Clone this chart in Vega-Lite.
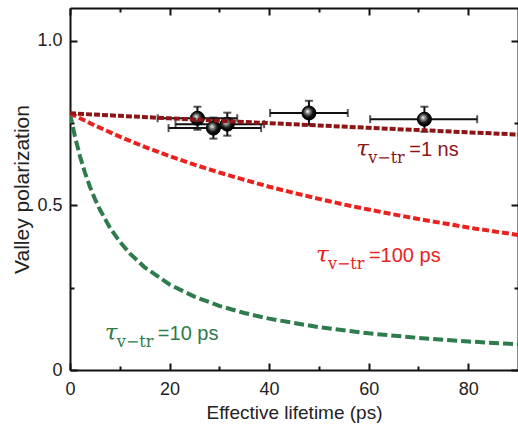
{
  "$schema": "https://vega.github.io/schema/vega-lite/v6.json",
  "width": 448,
  "height": 362,
  "autosize": "none",
  "padding": {"left": 70, "top": 8, "right": 0, "bottom": 55},
  "background": "white",
  "config": {
    "view": {"stroke": null},
    "axis": {
      "domainColor": "#111",
      "domainWidth": 2,
      "tickColor": "#111",
      "tickWidth": 2,
      "grid": false,
      "labelFont": "Liberation Sans",
      "labelColor": "#222",
      "titleFont": "Liberation Sans",
      "titleFontWeight": "normal",
      "titleColor": "#222"
    }
  },
  "datasets": {
    "curves": [
      {"series": "10 ps", "x": 0, "p": 0.78},
      {"series": "10 ps", "x": 1, "p": 0.709},
      {"series": "10 ps", "x": 2, "p": 0.65},
      {"series": "10 ps", "x": 3, "p": 0.6},
      {"series": "10 ps", "x": 4, "p": 0.557},
      {"series": "10 ps", "x": 5, "p": 0.52},
      {"series": "10 ps", "x": 6, "p": 0.4875},
      {"series": "10 ps", "x": 8, "p": 0.433},
      {"series": "10 ps", "x": 10, "p": 0.39},
      {"series": "10 ps", "x": 12, "p": 0.3545},
      {"series": "10 ps", "x": 15, "p": 0.312},
      {"series": "10 ps", "x": 20, "p": 0.26},
      {"series": "10 ps", "x": 25, "p": 0.2229},
      {"series": "10 ps", "x": 30, "p": 0.195},
      {"series": "10 ps", "x": 35, "p": 0.1733},
      {"series": "10 ps", "x": 40, "p": 0.156},
      {"series": "10 ps", "x": 50, "p": 0.13},
      {"series": "10 ps", "x": 60, "p": 0.1114},
      {"series": "10 ps", "x": 70, "p": 0.0975},
      {"series": "10 ps", "x": 80, "p": 0.0867},
      {"series": "10 ps", "x": 90, "p": 0.078},
      {"series": "100 ps", "x": 0, "p": 0.78},
      {"series": "100 ps", "x": 5, "p": 0.743},
      {"series": "100 ps", "x": 10, "p": 0.709},
      {"series": "100 ps", "x": 15, "p": 0.678},
      {"series": "100 ps", "x": 20, "p": 0.65},
      {"series": "100 ps", "x": 25, "p": 0.624},
      {"series": "100 ps", "x": 30, "p": 0.6},
      {"series": "100 ps", "x": 35, "p": 0.578},
      {"series": "100 ps", "x": 40, "p": 0.557},
      {"series": "100 ps", "x": 45, "p": 0.538},
      {"series": "100 ps", "x": 50, "p": 0.52},
      {"series": "100 ps", "x": 55, "p": 0.503},
      {"series": "100 ps", "x": 60, "p": 0.4875},
      {"series": "100 ps", "x": 65, "p": 0.473},
      {"series": "100 ps", "x": 70, "p": 0.459},
      {"series": "100 ps", "x": 75, "p": 0.446},
      {"series": "100 ps", "x": 80, "p": 0.433},
      {"series": "100 ps", "x": 85, "p": 0.4216},
      {"series": "100 ps", "x": 90, "p": 0.4105},
      {"series": "1 ns", "x": 0, "p": 0.78},
      {"series": "1 ns", "x": 10, "p": 0.7723},
      {"series": "1 ns", "x": 20, "p": 0.7647},
      {"series": "1 ns", "x": 30, "p": 0.7573},
      {"series": "1 ns", "x": 40, "p": 0.75},
      {"series": "1 ns", "x": 50, "p": 0.7429},
      {"series": "1 ns", "x": 60, "p": 0.7358},
      {"series": "1 ns", "x": 70, "p": 0.729},
      {"series": "1 ns", "x": 80, "p": 0.7222},
      {"series": "1 ns", "x": 90, "p": 0.7156}
    ],
    "pts": [
      {"x": 25.6, "y": 0.765, "xlo": 17.6, "xhi": 33.6, "ylo": 0.73, "yhi": 0.8},
      {"x": 28.8, "y": 0.735, "xlo": 19.8, "xhi": 38.4, "ylo": 0.703, "yhi": 0.767},
      {"x": 31.6, "y": 0.747, "xlo": 21.2, "xhi": 39.0, "ylo": 0.712, "yhi": 0.782},
      {"x": 48.0, "y": 0.781, "xlo": 40.2, "xhi": 55.8, "ylo": 0.744, "yhi": 0.818},
      {"x": 71.2, "y": 0.762, "xlo": 60.3, "xhi": 81.8, "ylo": 0.724, "yhi": 0.8}
    ],
    "labels": [
      {"series": "1 ns", "x": 57.5, "y": 0.65, "rest": "=1 ns"},
      {"series": "100 ps", "x": 49.4, "y": 0.329, "rest": "=100 ps"},
      {"series": "10 ps", "x": 7.0, "y": 0.091, "rest": "=10 ps"}
    ]
  },
  "layer": [
    {
      "layer": [
        {
          "data": {"name": "pts"},
          "mark": {"type": "errorbar", "ticks": {"size": 8, "thickness": 2, "color": "#111"}, "rule": {"strokeWidth": 2, "color": "#111"}},
          "encoding": {
            "x": {"field": "x", "type": "quantitative", "title": "Effective lifetime (ps)",
              "scale": {"domain": [0, 90], "nice": false, "zero": false},
              "axis": {"values": [0, 10, 20, 30, 40, 50, 60, 70, 80], "labelExpr": "datum.value % 20 === 0 ? datum.label : ''",
                "tickSize": {"condition": {"test": "datum.value % 20 !== 0", "value": -4}, "value": -7},
                "labelPadding": 17, "titlePadding": 5, "labelFlush": false,
                "labelFontSize": 18, "titleFontSize": 19}},
            "y": {"field": "ylo", "type": "quantitative", "title": "Valley polarization",
              "scale": {"domain": [0, 1.1], "nice": false, "zero": false},
              "axis": {"values": [0, 0.25, 0.5, 0.75, 1.0], "labelExpr": "datum.value === 0 ? '0' : (datum.value === 0.5 ? '0.5' : (datum.value === 1 ? '1.0' : ''))",
                "tickSize": {"condition": {"test": "datum.value === 0.25 || datum.value === 0.75", "value": -4}, "value": -7},
                "labelPadding": 15, "titlePadding": 4,
                "labelFontSize": 18, "titleFontSize": 21}},
            "y2": {"field": "yhi"}
          }
        },
        {
          "data": {"name": "pts"},
          "mark": {"type": "errorbar", "ticks": {"size": 8, "thickness": 2, "color": "#111"}, "rule": {"strokeWidth": 2, "color": "#111"}},
          "encoding": {
            "y": {"field": "y", "type": "quantitative", "title": "Valley polarization"},
            "x": {"field": "xlo", "type": "quantitative", "title": "Effective lifetime (ps)"},
            "x2": {"field": "xhi"}
          }
        },
        {
          "data": {"name": "pts"},
          "mark": {"type": "point", "filled": true, "size": 196, "opacity": 1, "stroke": "#000", "strokeWidth": 1,
            "fill": {"gradient": "radial", "x1": 0.4, "y1": 0.38, "r1": 0.02, "x2": 0.45, "y2": 0.45, "r2": 0.55,
              "stops": [{"offset": 0, "color": "#f0f0f0"}, {"offset": 0.3, "color": "#777"}, {"offset": 0.65, "color": "#111"}, {"offset": 1, "color": "#000"}]}},
          "encoding": {
            "x": {"field": "x", "type": "quantitative", "title": "Effective lifetime (ps)"},
            "y": {"field": "y", "type": "quantitative", "title": "Valley polarization"}
          }
        },
        {
          "data": {"name": "curves"},
          "mark": {"type": "line", "strokeWidth": 4, "strokeCap": "butt", "clip": true},
          "encoding": {
            "x": {"field": "x", "type": "quantitative", "title": "Effective lifetime (ps)"},
            "y": {"field": "p", "type": "quantitative", "title": "Valley polarization"},
            "color": {"field": "series", "type": "nominal", "scale": {"domain": ["1 ns", "100 ps", "10 ps"], "range": ["#8c1616", "#e8231f", "#2e7b4c"]}, "legend": null},
            "strokeDash": {"field": "series", "type": "nominal", "scale": {"domain": ["1 ns", "100 ps", "10 ps"], "range": [[6, 2], [7, 3], [10, 4]]}, "legend": null}
          }
        },
        {
          "data": {"name": "labels"},
          "mark": {"type": "text", "text": "τ", "font": "DejaVu Serif", "fontStyle": "italic", "fontSize": 23, "align": "left", "baseline": "alphabetic"},
          "encoding": {
            "x": {"field": "x", "type": "quantitative", "title": "Effective lifetime (ps)"},
            "y": {"field": "y", "type": "quantitative", "title": "Valley polarization"},
            "color": {"field": "series", "type": "nominal", "legend": null}
          }
        },
        {
          "data": {"name": "labels"},
          "mark": {"type": "text", "text": "v−tr", "font": "DejaVu Serif", "fontSize": 16, "align": "left", "baseline": "alphabetic", "dx": 12, "dy": 7},
          "encoding": {
            "x": {"field": "x", "type": "quantitative", "title": "Effective lifetime (ps)"},
            "y": {"field": "y", "type": "quantitative", "title": "Valley polarization"},
            "color": {"field": "series", "type": "nominal", "legend": null}
          }
        },
        {
          "data": {"name": "labels"},
          "mark": {"type": "text", "font": "Liberation Sans", "fontSize": 20, "align": "left", "baseline": "alphabetic", "dx": 53},
          "encoding": {
            "x": {"field": "x", "type": "quantitative", "title": "Effective lifetime (ps)"},
            "y": {"field": "y", "type": "quantitative", "title": "Valley polarization"},
            "text": {"field": "rest"},
            "color": {"field": "series", "type": "nominal", "legend": null}
          }
        }
      ]
    },
    {
      "data": {"name": "pts"},
      "mark": {"type": "point", "opacity": 0},
      "encoding": {
        "x": {"field": "x", "type": "quantitative", "scale": {"domain": [0, 90], "nice": false, "zero": false},
          "axis": {"orient": "top", "title": null, "labels": false, "values": [0, 10, 20, 30, 40, 50, 60, 70, 80],
            "tickSize": {"condition": {"test": "datum.value % 20 !== 0", "value": -4}, "value": -7}}},
        "y": {"field": "y", "type": "quantitative", "scale": {"domain": [0, 1.1], "nice": false, "zero": false},
          "axis": {"orient": "right", "title": null, "labels": false, "values": [0, 0.25, 0.5, 0.75, 1.0],
            "tickSize": {"condition": {"test": "datum.value === 0.25 || datum.value === 0.75", "value": -4}, "value": -7}}}
      }
    }
  ],
  "resolve": {"scale": {"x": "independent", "y": "independent"}}
}
